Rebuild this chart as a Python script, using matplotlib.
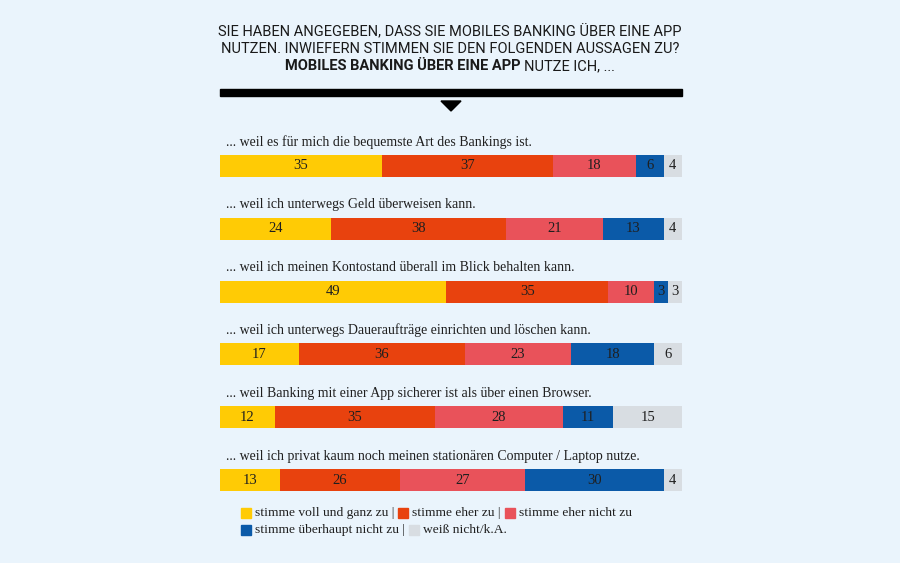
import numpy as np
import matplotlib
matplotlib.use('Agg')
from matplotlib import pyplot as plt
from matplotlib.patches import Rectangle, Polygon

# Survey data: share of answers in percent per statement.
statements = [
    '... weil es für mich die bequemste Art des Bankings ist.',
    '... weil ich unterwegs Geld überweisen kann.',
    '... weil ich meinen Kontostand überall im Blick behalten kann.',
    '... weil ich unterwegs Daueraufträge einrichten und löschen kann.',
    '... weil Banking mit einer App sicherer ist als über einen Browser.',
    '... weil ich privat kaum noch meinen stationären Computer / Laptop nutze.',
]
voll = [35, 24, 49, 17, 12, 13]
eher = [37, 38, 35, 36, 35, 26]
eher_nicht = [18, 21, 10, 23, 28, 27]
ueberhaupt_nicht = [6, 13, 3, 18, 11, 30]
weiss_nicht = [4, 4, 3, 6, 15, 4]

categories = ['stimme voll und ganz zu', 'stimme eher zu', 'stimme eher nicht zu',
              'stimme überhaupt nicht zu', 'weiß nicht/k.A.']
colors = ['#ffcb05', '#e8420e', '#e9525a', '#0b5aa8', '#d8dde2']
bg = '#eaf4fc'

series = [voll, eher, eher_nicht, ueberhaupt_nicht, weiss_nicht]

W, H = 900, 563
fig = plt.figure(figsize=(9, 5.63), dpi=100, facecolor=bg)

title_font = ['Roboto', 'DejaVu Sans']
serif_font = ['Liberation Serif', 'DejaVu Serif']
tcol = '#1a1a1a'


def fy(py):
    return 1 - py / H


# Title block
fig.text(0.5, fy(32), 'SIE HABEN ANGEGEBEN, DASS SIE MOBILES BANKING ÜBER EINE APP',
         ha='center', va='center', fontsize=10.5, family=title_font, color=tcol)
fig.text(0.5, fy(49), 'NUTZEN. INWIEFERN STIMMEN SIE DEN FOLGENDEN AUSSAGEN ZU?',
         ha='center', va='center', fontsize=10.5, family=title_font, color=tcol)
t1 = fig.text(0, fy(66), 'MOBILES BANKING ÜBER EINE APP ', ha='left', va='center',
              fontsize=10.5, family=title_font, fontweight='bold', color=tcol)
t2 = fig.text(0, fy(66), 'NUTZE ICH, ...', ha='left', va='center',
              fontsize=10.5, family=title_font, color=tcol)
fig.canvas.draw()
w1 = t1.get_window_extent().width
w2 = t2.get_window_extent().width
x0 = (W - w1 - w2) / 2
t1.set_x(x0 / W)
t2.set_x((x0 + w1) / W)

# Black rule and arrow
fig.patches.append(Rectangle((220 / W, fy(96)), 462 / W, 7 / H,
                             transform=fig.transFigure, color='black'))
fig.patches.append(Polygon([(441 / W, fy(101)), (461 / W, fy(101)), (451 / W, fy(111))],
                           closed=True, transform=fig.transFigure, color='black'))

# Bars
ax = fig.add_axes([220 / W, fy(517.7), 462 / W, 389.4 / H])
ax.set_facecolor(bg)
ypos = np.arange(len(statements))
totals = np.sum(series, axis=0)
left = np.zeros(len(statements))
for vals, col in zip(series, colors):
    vals = np.array(vals, dtype=float)
    widths = vals * 100 / totals
    ax.barh(ypos, widths, left=left, height=0.35, color=col, edgecolor='none')
    for y, l, w, v in zip(ypos, left, widths, vals):
        ax.text(l + w / 2, y, f'{int(v)}', ha='center', va='center',
                fontsize=10.5, family=serif_font, color='#1f1f1f')
    left += widths

for y, s in zip(ypos, statements):
    ax.text(1.2, y - 0.38, s, ha='left', va='center', fontsize=10,
            family=serif_font, color='#1f1f1f')

ax.set_xlim(0, 100)
ax.set_ylim(5.6, -0.6)
ax.axis('off')

# Legend drawn as flowing text: two lines
legend_rows = [[0, 1, 2], [3, 4]]
row_y = [513, 530]
renderer = fig.canvas.get_renderer()
for row, py in zip(legend_rows, row_y):
    x = 241
    for idx in row:
        fig.patches.append(Rectangle((x / W, fy(py + 5)), 10 / W, 10 / H,
                                     transform=fig.transFigure, color=colors[idx]))
        label = categories[idx] + (' |' if idx not in (2, 4) else '')
        t = fig.text((x + 14) / W, fy(py), label, ha='left', va='center', fontsize=9.7,
                     family=serif_font, color='#1f1f1f')
        x = x + 14 + t.get_window_extent(renderer).width + 4

fig.savefig('out.png', dpi=100, facecolor=bg)
